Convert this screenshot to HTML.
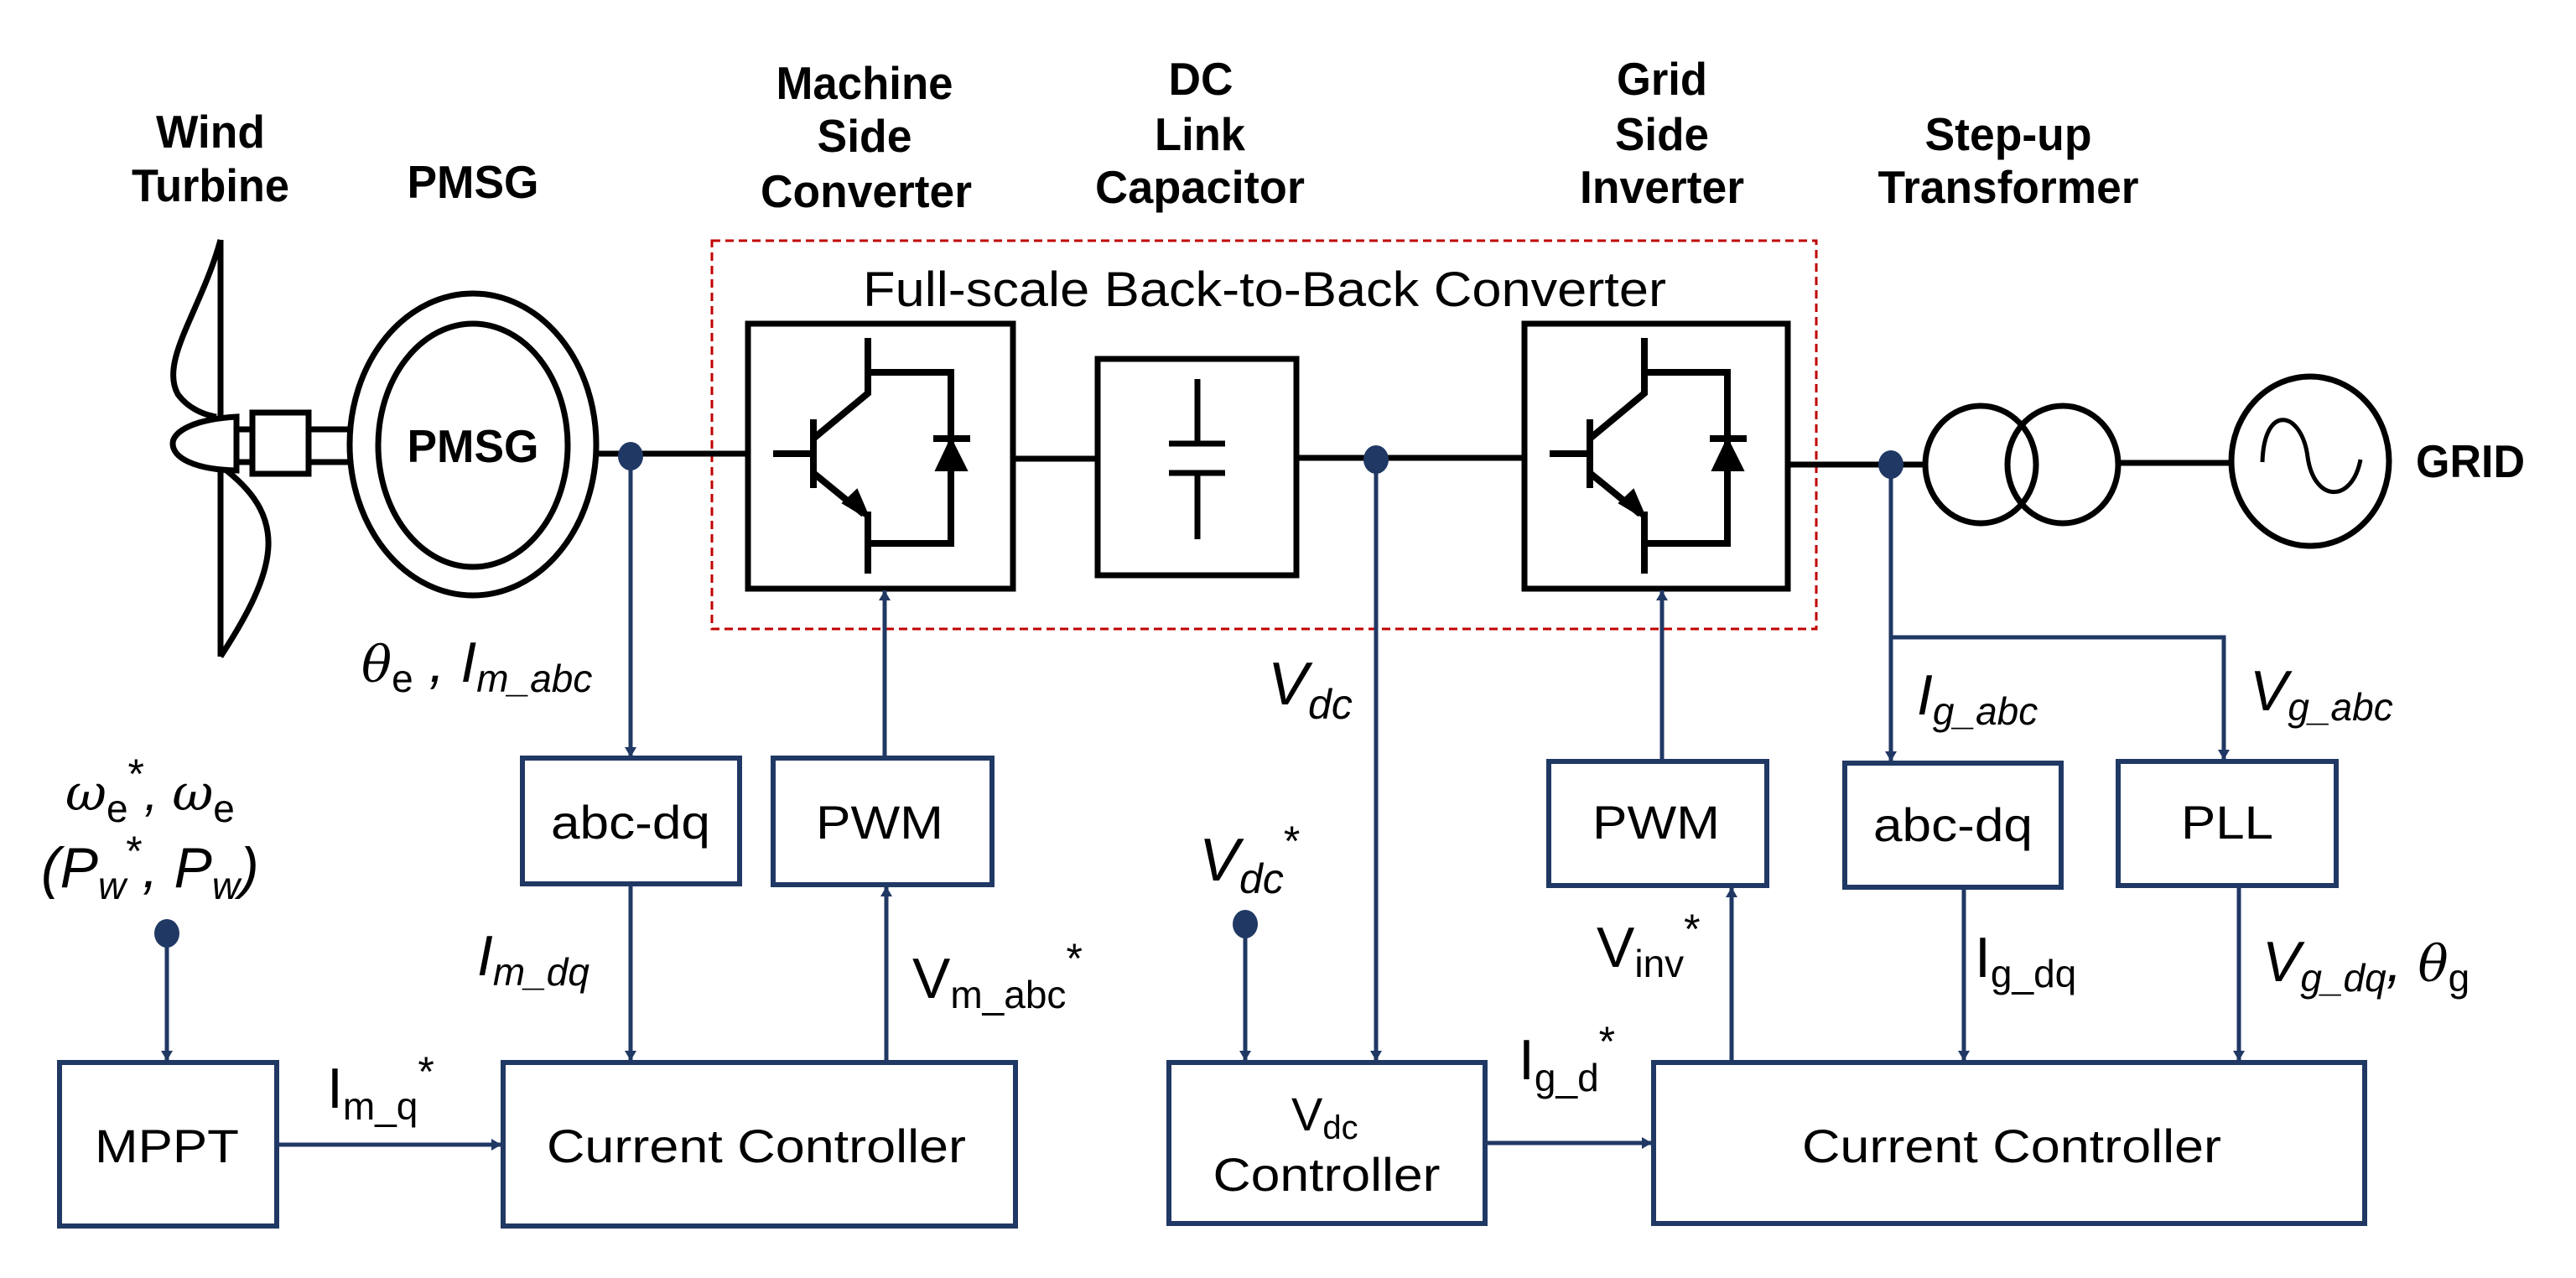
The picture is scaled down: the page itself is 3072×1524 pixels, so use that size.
<!DOCTYPE html>
<html><head><meta charset="utf-8"><style>html,body{margin:0;padding:0;background:#fff}svg{display:block}</style></head>
<body>
<svg width="3072" height="1524" viewBox="0 0 3072 1524" xmlns="http://www.w3.org/2000/svg" font-family="Liberation Sans, Arial, sans-serif">
<defs>
<marker id="ah" viewBox="0 0 12 20" refX="12" refY="10" markerWidth="12" markerHeight="20" markerUnits="userSpaceOnUse" orient="auto">
<path d="M0,3 L12,10 L0,17 Z" fill="#203864"/>
</marker>
<g id="igbt" fill="none" stroke="#000" stroke-width="8">
<path d="M1035 403 V469 L970 523"/>
<path d="M1035 444 H1134 V648 H1035"/>
<path d="M970 564 L1030 613 M1035 610 V684"/>
<path d="M970 500 V582" />
<path d="M922 541 H970"/>
<path d="M1113 523 H1157"/>
<path d="M1134 523 L1116 561 H1153 Z" fill="#000" stroke-width="2"/>
<path d="M1037 619 L1005 600 L1022 584 Z" fill="#000" stroke-width="2"/>
</g>
</defs>

<g font-weight="bold" font-size="55" text-anchor="middle" fill="#000">
<text x="251" y="176" textLength="130" lengthAdjust="spacingAndGlyphs">Wind</text>
<text x="251" y="240" textLength="188" lengthAdjust="spacingAndGlyphs">Turbine</text>
<text x="564" y="236" textLength="157" lengthAdjust="spacingAndGlyphs">PMSG</text>
<text x="1031" y="118" textLength="211" lengthAdjust="spacingAndGlyphs">Machine</text>
<text x="1031" y="181" textLength="113" lengthAdjust="spacingAndGlyphs">Side</text>
<text x="1033" y="247" textLength="252" lengthAdjust="spacingAndGlyphs">Converter</text>
<text x="1432" y="113" textLength="77" lengthAdjust="spacingAndGlyphs">DC</text>
<text x="1431" y="179" textLength="108" lengthAdjust="spacingAndGlyphs">Link</text>
<text x="1431" y="242" textLength="250" lengthAdjust="spacingAndGlyphs">Capacitor</text>
<text x="1982" y="113" textLength="108" lengthAdjust="spacingAndGlyphs">Grid</text>
<text x="1982" y="179" textLength="112" lengthAdjust="spacingAndGlyphs">Side</text>
<text x="1982" y="242" textLength="196" lengthAdjust="spacingAndGlyphs">Inverter</text>
<text x="2395" y="179" textLength="199" lengthAdjust="spacingAndGlyphs">Step-up</text>
<text x="2395" y="242" textLength="311" lengthAdjust="spacingAndGlyphs">Transformer</text>
<text x="2946" y="569" textLength="130" lengthAdjust="spacingAndGlyphs">GRID</text>
<text x="564" y="551" textLength="157" lengthAdjust="spacingAndGlyphs">PMSG</text>
</g>

<rect x="849" y="287" width="1317" height="463" fill="none" stroke="#c00000" stroke-width="3" stroke-dasharray="10,6"/>
<text x="1508" y="365" font-size="58" text-anchor="middle" textLength="958" lengthAdjust="spacingAndGlyphs">Full-scale Back-to-Back Converter</text>

<g fill="none" stroke="#000" stroke-width="7">
<path d="M263 286 V783"/>
<path d="M263 286 C240 370 190 430 212 470 C225 488 245 495 258 497"/>
<path d="M270 561 C345 620 330 680 263 783"/>
<path d="M282 497 C230 500 206 515 206 529 C206 545 230 560 282 561 Z" fill="#fff"/>
<rect x="301" y="492" width="67" height="73"/>
<path d="M282 512 H301 M282 551 H301 M368 512 H420 M368 551 H420"/>
<ellipse cx="564" cy="530" rx="147" ry="180"/>
<ellipse cx="564" cy="531" rx="113" ry="145"/>
<path d="M711 541 H892"/>
<rect x="892" y="386" width="316" height="316"/>
<path d="M1208 547 H1309"/>
<rect x="1309" y="428" width="237" height="258"/>
<path d="M1428 452 V529 M1394 529 H1461 M1394 564 H1461 M1428 564 V643"/>
<path d="M1546 546 H1818"/>
<rect x="1818" y="386" width="314" height="316"/>
<path d="M2132 554 H2296"/>
<ellipse cx="2362" cy="554" rx="66" ry="70"/>
<ellipse cx="2460" cy="554" rx="66" ry="70"/>
<path d="M2526 552 H2661"/>
<ellipse cx="2755" cy="550" rx="94" ry="101"/>
<path d="M2698 551 C2700 480 2745 490 2752 545 C2760 600 2805 600 2815 548" stroke-width="5"/>
</g>
<use href="#igbt"/>
<use href="#igbt" transform="translate(926,0)"/>

<g fill="none" stroke="#203864" stroke-width="5">
<path d="M752 544 V903" marker-end="url(#ah)"/>
<path d="M1055 904 V704" marker-end="url(#ah)"/>
<path d="M752 1054 V1265" marker-end="url(#ah)"/>
<path d="M1057 1267 V1057" marker-end="url(#ah)"/>
<path d="M199 1113 V1265" marker-end="url(#ah)"/>
<path d="M330 1365 H598" marker-end="url(#ah)"/>
<path d="M1485 1102 V1265" marker-end="url(#ah)"/>
<path d="M1641 548 V1265" marker-end="url(#ah)"/>
<path d="M1771 1363 H1970" marker-end="url(#ah)"/>
<path d="M1982 908 V704" marker-end="url(#ah)"/>
<path d="M2065 1267 V1058" marker-end="url(#ah)"/>
<path d="M2255 554 V908" marker-end="url(#ah)"/>
<path d="M2255 760 H2652 V906" marker-end="url(#ah)"/>
<path d="M2342 1058 V1265" marker-end="url(#ah)"/>
<path d="M2670 1056 V1265" marker-end="url(#ah)"/>
</g>
<g fill="none" stroke="#203864" stroke-width="6">
<rect x="623" y="904" width="259" height="150"/>
<rect x="922" y="904" width="261" height="151"/>
<rect x="71" y="1267" width="259" height="195"/>
<rect x="600" y="1267" width="611" height="195"/>
<rect x="1394" y="1267" width="377" height="192"/>
<rect x="1972" y="1267" width="848" height="192"/>
<rect x="1847" y="908" width="260" height="148"/>
<rect x="2200" y="910" width="258" height="148"/>
<rect x="2526" y="908" width="260" height="148"/>
</g>
<g fill="#203864">
<ellipse cx="752" cy="544" rx="15" ry="17"/>
<ellipse cx="1641" cy="548" rx="15" ry="17"/>
<ellipse cx="2255" cy="554" rx="15" ry="17"/>
<ellipse cx="199" cy="1113" rx="15" ry="17"/>
<ellipse cx="1485" cy="1102" rx="15" ry="17"/>
</g>

<g font-size="56" text-anchor="middle" fill="#000">
<text x="752" y="1000" textLength="190" lengthAdjust="spacingAndGlyphs">abc-dq</text>
<text x="1049" y="1000" textLength="152" lengthAdjust="spacingAndGlyphs">PWM</text>
<text x="199" y="1386" textLength="172" lengthAdjust="spacingAndGlyphs">MPPT</text>
<text x="902" y="1386" textLength="500" lengthAdjust="spacingAndGlyphs">Current Controller</text>
<text x="1975" y="1000" textLength="152" lengthAdjust="spacingAndGlyphs">PWM</text>
<text x="2329" y="1003" textLength="190" lengthAdjust="spacingAndGlyphs">abc-dq</text>
<text x="2656" y="1000" textLength="110" lengthAdjust="spacingAndGlyphs">PLL</text>
<text x="2399" y="1386" textLength="500" lengthAdjust="spacingAndGlyphs">Current Controller</text>
<text x="1582" y="1420" textLength="271" lengthAdjust="spacingAndGlyphs">Controller</text>
</g>
<text x="1540" y="1348" font-size="56">V<tspan font-size="40" dy="10">dc</tspan></text>

<g fill="#000" font-size="68">
<text x="78" y="966" font-style="italic" font-family="DejaVu Serif, serif" font-size="60">ω<tspan font-family="Liberation Sans, sans-serif" font-style="normal" font-size="46" dy="14">e</tspan><tspan font-family="Liberation Sans, sans-serif" font-style="normal" font-size="50" dy="-40">*</tspan><tspan font-family="Liberation Sans, sans-serif" dy="26">, </tspan>ω<tspan font-family="Liberation Sans, sans-serif" font-style="normal" font-size="46" dy="14">e</tspan></text>
<text x="49" y="1058" font-style="italic">(P<tspan font-size="46" dy="14">w</tspan><tspan font-style="normal" font-size="50" dy="-40">*</tspan><tspan dy="26">, P</tspan><tspan font-size="46" dy="14">w</tspan><tspan dy="-14">)</tspan></text>
<text x="431" y="813" font-style="italic"><tspan font-family="DejaVu Serif, serif" font-size="60">θ</tspan><tspan font-style="normal" font-size="46" dy="12">e</tspan><tspan dy="-12"> , I</tspan><tspan font-size="46" dy="12">m_abc</tspan></text>
<text x="569" y="1163" font-style="italic">I<tspan font-size="46" dy="12">m_dq</tspan></text>
<text x="1088" y="1190">V<tspan font-size="46" dy="12">m_abc</tspan><tspan font-size="50" dy="-42">*</tspan></text>
<text x="390" y="1321">I<tspan font-size="46" dy="14">m_q</tspan><tspan font-size="50" dy="-40">*</tspan></text>
<text x="1512" y="840" font-style="italic" font-size="72">V<tspan font-size="50" dy="17">dc</tspan></text>
<text x="1430" y="1050" font-style="italic" font-size="72">V<tspan font-size="50" dy="15">dc</tspan><tspan font-style="normal" font-size="50" dy="-45">*</tspan></text>
<text x="1811" y="1287">I<tspan font-size="46" dy="14">g_d</tspan><tspan font-size="50" dy="-42">*</tspan></text>
<text x="1904" y="1153">V<tspan font-size="46" dy="12">inv</tspan><tspan font-size="50" dy="-40">*</tspan></text>
<text x="2286" y="852" font-style="italic">I<tspan font-size="46" dy="12">g_abc</tspan></text>
<text x="2683" y="847" font-style="italic">V<tspan font-size="46" dy="12">g_abc</tspan></text>
<text x="2355" y="1165">I<tspan font-size="46" dy="12">g_dq</tspan></text>
<text x="2698" y="1170" font-style="italic">V<tspan font-size="46" dy="12">g_dq</tspan><tspan dy="-12">, </tspan><tspan font-family="DejaVu Serif, serif" font-size="60">θ</tspan><tspan font-style="normal" font-size="46" dy="12">g</tspan></text>
</g>
</svg>
</body></html>
